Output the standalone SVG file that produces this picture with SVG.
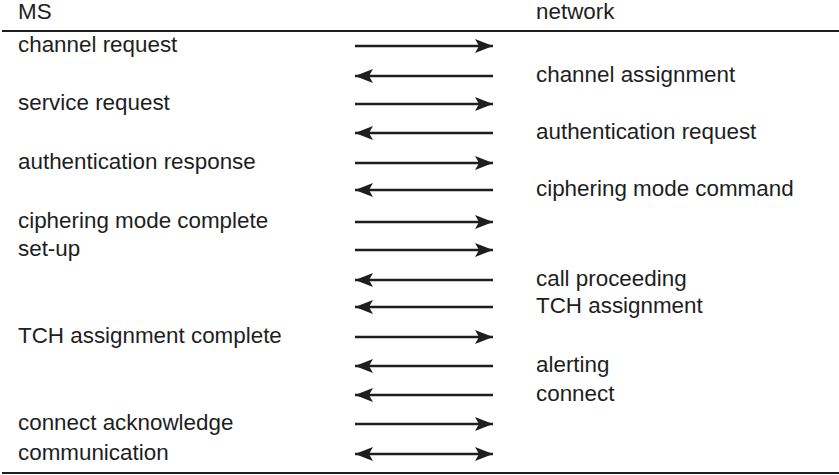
<svg xmlns="http://www.w3.org/2000/svg" width="839" height="475" viewBox="0 0 839 475">
<defs>
<style>
text{font-family:"Liberation Sans",Arial,sans-serif;font-size:22.4px;fill:#1e1e1e}
.ln{stroke:#1e1e1e;stroke-width:2.4;fill:none}
.rule{stroke:#1e1e1e;stroke-width:2.2}
</style>
<marker id="ah" viewBox="0 0 18 14" refX="18" refY="7" markerWidth="18" markerHeight="14" markerUnits="userSpaceOnUse" orient="auto-start-reverse">
<path d="M0,0 L18,7 L0,14 L4,7 Z" fill="#1e1e1e"/>
</marker>
</defs>
<rect width="839" height="475" fill="#fff"/>
<g id="header">
<text x="18" y="19">MS</text>
<text x="536" y="19">network</text>
<line class="rule" x1="2" y1="31" x2="839" y2="31"/>
<line class="rule" x1="2" y1="473" x2="839" y2="473"/>
</g>
<g id="ms-labels">
<text x="18" y="52">channel request</text>
<text x="18" y="110">service request</text>
<text x="18" y="169">authentication response</text>
<text x="18" y="228">ciphering mode complete</text>
<text x="18" y="256">set-up</text>
<text x="18" y="343">TCH assignment complete</text>
<text x="18" y="430">connect acknowledge</text>
<text x="18" y="460">communication</text>
</g>
<g id="network-labels">
<text x="536" y="82">channel assignment</text>
<text x="536" y="139">authentication request</text>
<text x="536" y="196">ciphering mode command</text>
<text x="536" y="286">call proceeding</text>
<text x="536" y="313">TCH assignment</text>
<text x="536" y="372">alerting</text>
<text x="536" y="401">connect</text>
</g>
<g id="connectors">
<line class="ln" x1="355" y1="46" x2="493" y2="46" marker-end="url(#ah)"/>
<line class="ln" x1="493" y1="76" x2="355" y2="76" marker-end="url(#ah)"/>
<line class="ln" x1="355" y1="104" x2="493" y2="104" marker-end="url(#ah)"/>
<line class="ln" x1="493" y1="133" x2="355" y2="133" marker-end="url(#ah)"/>
<line class="ln" x1="355" y1="163" x2="493" y2="163" marker-end="url(#ah)"/>
<line class="ln" x1="493" y1="190" x2="355" y2="190" marker-end="url(#ah)"/>
<line class="ln" x1="355" y1="222" x2="493" y2="222" marker-end="url(#ah)"/>
<line class="ln" x1="355" y1="250" x2="493" y2="250" marker-end="url(#ah)"/>
<line class="ln" x1="493" y1="280" x2="355" y2="280" marker-end="url(#ah)"/>
<line class="ln" x1="493" y1="307" x2="355" y2="307" marker-end="url(#ah)"/>
<line class="ln" x1="355" y1="337" x2="493" y2="337" marker-end="url(#ah)"/>
<line class="ln" x1="493" y1="366" x2="355" y2="366" marker-end="url(#ah)"/>
<line class="ln" x1="493" y1="395" x2="355" y2="395" marker-end="url(#ah)"/>
<line class="ln" x1="355" y1="424" x2="493" y2="424" marker-end="url(#ah)"/>
<line class="ln" x1="355" y1="454" x2="493" y2="454" marker-start="url(#ah)" marker-end="url(#ah)"/>
</g>
</svg>
